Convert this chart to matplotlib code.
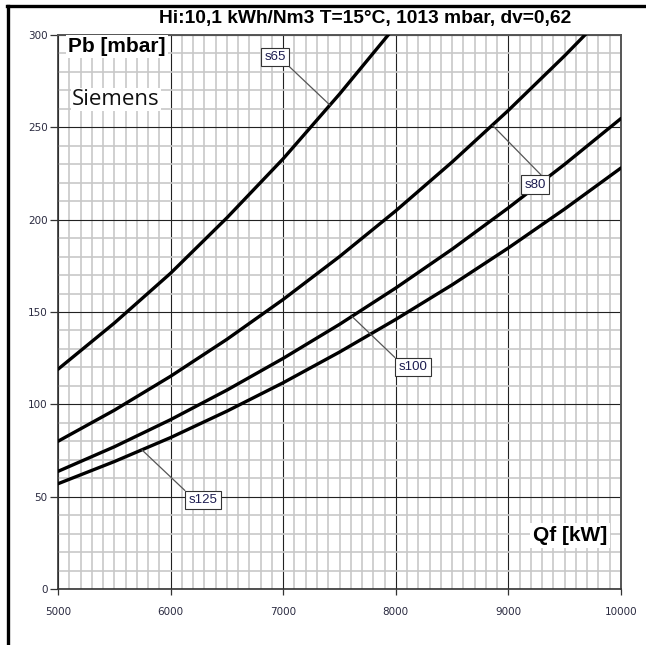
import matplotlib.pyplot as plt
from matplotlib.lines import Line2D
from matplotlib.ticker import MultipleLocator

# Qf [kW]
qf = [5000, 5500, 6000, 6500, 7000, 7500, 8000, 8500, 9000, 9500, 10000]

# Pb [mbar] for each valve size
pb_s65 = [119, 144, 171, 201, 233, 268, 305]
pb_s80 = [80, 96.8, 115.2, 135.2, 156.8, 180, 204.8, 231.2, 259.2, 288.8, 320]
pb_s100 = [63.7, 77, 91.7, 107.7, 124.9, 143.3, 163, 184, 206.4, 230, 254.8]
pb_s125 = [57, 69, 82, 96.3, 111.7, 128.3, 146, 164.7, 184.7, 205.8, 228]

labels = ['s65', 's80', 's100', 's125']
# (curve point, label box centre) for the callouts
label_at = [(7416, 262), (8860, 251), (7611, 147.6), (5746, 75.3)]
label_box = [(6927, 288), (9236, 219), (8153, 120.2), (6288, 48.2)]
label_rel = [(1, 0), (0.95, 1), (0, 1), (0, 1)]

fig = plt.figure(figsize=(6.46, 6.45), dpi=100)
ax = fig.add_axes([58 / 646, 1 - 589 / 645, (621 - 58) / 646, (589 - 35) / 645])

for pb in [pb_s65, pb_s80, pb_s100, pb_s125]:
    ax.plot(qf[:len(pb)], pb, color='black', lw=2.4, solid_capstyle='round', zorder=4)

ax.set_xlim(5000, 10000)
ax.set_ylim(0, 300)
ax.xaxis.set_major_locator(MultipleLocator(1000))
ax.xaxis.set_minor_locator(MultipleLocator(100))
ax.yaxis.set_major_locator(MultipleLocator(50))
ax.yaxis.set_minor_locator(MultipleLocator(10))
ax.grid(which='minor', color='#c8c8c8', lw=1.2, zorder=1)
ax.grid(which='major', color='#222222', lw=0.8, zorder=2)
ax.set_axisbelow(True)

ax.tick_params(which='minor', length=0)
ax.tick_params(axis='y', which='major', length=6, width=0.9, pad=1.5,
               labelsize=7.5, labelcolor='#2a2a40', color='#333333')
ax.tick_params(axis='x', which='major', length=4, width=0.9, pad=9,
               labelsize=7.5, labelcolor='#2a2a40', color='#333333')
for s in ['left', 'bottom']:
    ax.spines[s].set_color('#333333')
    ax.spines[s].set_linewidth(1.2)
for s in ['right', 'top']:
    ax.spines[s].set_color('#555555')
    ax.spines[s].set_linewidth(1.4)

for lab, xy, box, rel in zip(labels, label_at, label_box, label_rel):
    ax.annotate(lab, xy=xy, xytext=box, ha='center', va='center',
                fontsize=9.5, color='#1c1c50',
                family=['Liberation Sans Narrow', 'Liberation Sans'],
                bbox=dict(boxstyle='square,pad=0.25', fc='white', ec='#333333', lw=0.8),
                arrowprops=dict(arrowstyle='-', color='#555555', lw=0.9,
                                shrinkA=0, shrinkB=0, relpos=rel),
                zorder=6)

ax.text(5090, 299, 'Pb [mbar]', ha='left', va='top', fontsize=15, fontweight='bold',
        family='Liberation Sans', zorder=5,
        bbox=dict(boxstyle='square,pad=0.1', fc='white', ec='none'))
ax.text(5515, 265, 'Siemens', ha='center', va='center', fontsize=16,
        family='Open Sans', color='#111111', zorder=5,
        bbox=dict(boxstyle='square,pad=0.05', fc='white', ec='none'))
ax.text(9545, 29, 'Qf [kW]', ha='center', va='center', fontsize=15, fontweight='bold',
        family='Liberation Sans', zorder=5,
        bbox=dict(boxstyle='square,pad=0.15', fc='white', ec='none'))

fig.text(365 / 646, 1 - 19 / 645, 'Hi:10,1 kWh/Nm3 T=15°C, 1013 mbar, dv=0,62',
         ha='center', va='center', fontsize=13.8, fontweight='bold', family='Liberation Sans',
         bbox=dict(boxstyle='square,pad=0.1', fc='white', ec='none'))

# outer frame (top and left only)
fig.add_artist(Line2D([7 / 646, 1], [1 - 6 / 645, 1 - 6 / 645], color='black', lw=2.4))
fig.add_artist(Line2D([8 / 646, 8 / 646], [0, 1 - 6 / 645], color='black', lw=2.4))

fig.savefig('out.png', dpi=100)
